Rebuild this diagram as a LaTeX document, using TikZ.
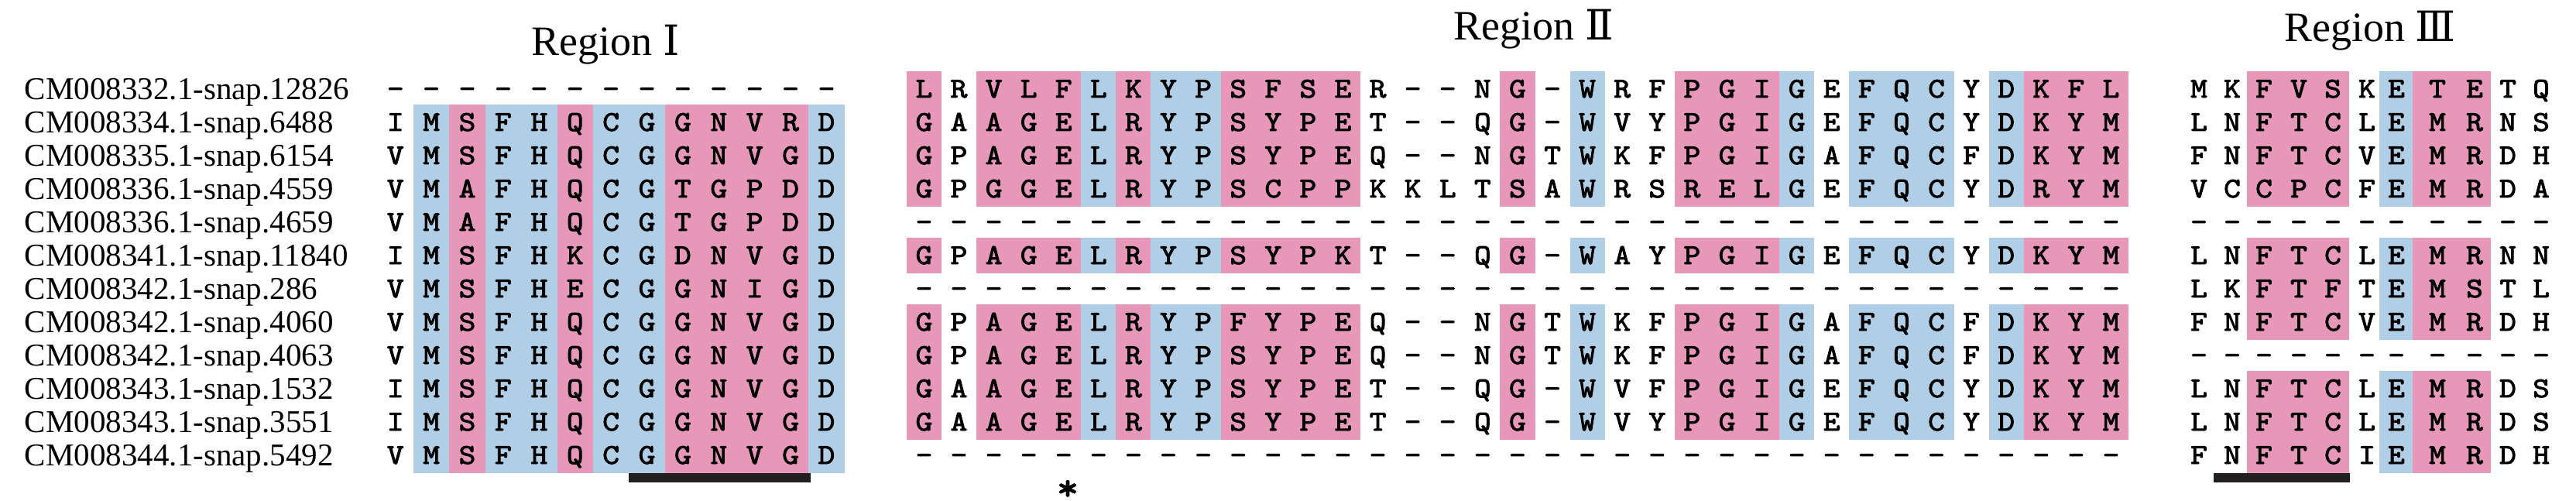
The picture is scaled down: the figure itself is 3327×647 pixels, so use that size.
\documentclass[tikz,border=0pt]{standalone}
\usepackage{fontspec}
\setmainfont{Liberation Serif}
\newfontfamily\resfont{lmmono10-regular.otf}[FakeBold=2.6,FakeStretch=1.12]
\newfontfamily\numfont{DejaVu Serif}
\usepackage{xcolor}
\usepackage{tikz}

\definecolor{shpink}{RGB}{231,151,184}
\definecolor{shblue}{RGB}{176,207,230}
\definecolor{barink}{RGB}{35,31,32}

\tikzset{
  res/.style={anchor=base, inner sep=0pt, font=\resfont\fontsize{18.5}{18.5}\selectfont},
  seqname/.style={anchor=base west, inner sep=0pt, font=\fontsize{20.5}{20.5}\selectfont},
  regtitle/.style={anchor=base, inner sep=0pt, font=\fontsize{27}{27}\selectfont},
}

\begin{document}
\begin{tikzpicture}[x=0.5pt,y=-0.5pt]
  \useasboundingbox (0,0) rectangle (3327,647);

  % sequence names
  \foreach \nm [count=\r] in {CM008332.1-snap.12826, CM008334.1-snap.6488,
      CM008335.1-snap.6154, CM008336.1-snap.4559, CM008336.1-snap.4659,
      CM008341.1-snap.11840, CM008342.1-snap.286, CM008342.1-snap.4060,
      CM008342.1-snap.4063, CM008343.1-snap.1532, CM008343.1-snap.3551,
      CM008344.1-snap.5492}
    \node[seqname] (name\r) at (31.6,{128.3+43*(\r-1)}) {\nm};

  % region I
  \begin{scope}
  \node[regtitle] (titleI) at (782,71.7) {Region {\numfont Ⅰ}};
  \foreach \ca/\cb/\clr in {2/2/shblue,3/3/shpink,4/5/shblue,6/6/shpink,
      7/8/shblue,9/12/shpink,13/13/shblue}
    \fill[\clr] ({510.7+46.4*(\ca-1)-23.2},135) rectangle ({510.7+46.4*(\cb-1)+23.2},611);
  \foreach \r/\seq in {
      1/{-,-,-,-,-,-,-,-,-,-,-,-,-},
      2/{I,M,S,F,H,Q,C,G,G,N,V,R,D},
      3/{V,M,S,F,H,Q,C,G,G,N,V,G,D},
      4/{V,M,A,F,H,Q,C,G,T,G,P,D,D},
      5/{V,M,A,F,H,Q,C,G,T,G,P,D,D},
      6/{I,M,S,F,H,K,C,G,D,N,V,G,D},
      7/{V,M,S,F,H,E,C,G,G,N,I,G,D},
      8/{V,M,S,F,H,Q,C,G,G,N,V,G,D},
      9/{V,M,S,F,H,Q,C,G,G,N,V,G,D},
      10/{I,M,S,F,H,Q,C,G,G,N,V,G,D},
      11/{I,M,S,F,H,Q,C,G,G,N,V,G,D},
      12/{V,M,S,F,H,Q,C,G,G,N,V,G,D}}
    \foreach \aa [count=\ci] in \seq
      \node[res] (a\r-\ci) at ({510.7+46.4*(\ci-1)},{126+43*(\r-1)}) {\aa};
  \fill[barink] (812.4,610.7) rectangle (1046.6,622.7);
  \end{scope}

  % region II
  \begin{scope}
  \node[regtitle] (titleII) at (1981,51.7) {Region {\numfont Ⅱ}};
  \foreach \ra/\rb in {1/4,6/6,8/11}
    \foreach \ca/\cb/\clr in {1/1/shpink,3/5/shpink,6/6/shblue,7/7/shpink,
        8/9/shblue,10/13/shpink,18/18/shpink,20/20/shblue,23/25/shpink,
        26/26/shblue,28/30/shblue,32/32/shblue,33/35/shpink}
      \fill[\clr] ({1193.4+45.09*(\ca-1)-22.6},{115+43*(\ra-1)-23})
        rectangle ({1193.4+45.09*(\cb-1)+22.6},{115+43*(\rb-1)+23});
  \foreach \r/\seq in {
      1/{L,R,V,L,F,L,K,Y,P,S,F,S,E,R,-,-,N,G,-,W,R,F,P,G,I,G,E,F,Q,C,Y,D,K,F,L},
      2/{G,A,A,G,E,L,R,Y,P,S,Y,P,E,T,-,-,Q,G,-,W,V,Y,P,G,I,G,E,F,Q,C,Y,D,K,Y,M},
      3/{G,P,A,G,E,L,R,Y,P,S,Y,P,E,Q,-,-,N,G,T,W,K,F,P,G,I,G,A,F,Q,C,F,D,K,Y,M},
      4/{G,P,G,G,E,L,R,Y,P,S,C,P,P,K,K,L,T,S,A,W,R,S,R,E,L,G,E,F,Q,C,Y,D,R,Y,M},
      5/{-,-,-,-,-,-,-,-,-,-,-,-,-,-,-,-,-,-,-,-,-,-,-,-,-,-,-,-,-,-,-,-,-,-,-},
      6/{G,P,A,G,E,L,R,Y,P,S,Y,P,K,T,-,-,Q,G,-,W,A,Y,P,G,I,G,E,F,Q,C,Y,D,K,Y,M},
      7/{-,-,-,-,-,-,-,-,-,-,-,-,-,-,-,-,-,-,-,-,-,-,-,-,-,-,-,-,-,-,-,-,-,-,-},
      8/{G,P,A,G,E,L,R,Y,P,F,Y,P,E,Q,-,-,N,G,T,W,K,F,P,G,I,G,A,F,Q,C,F,D,K,Y,M},
      9/{G,P,A,G,E,L,R,Y,P,S,Y,P,E,Q,-,-,N,G,T,W,K,F,P,G,I,G,A,F,Q,C,F,D,K,Y,M},
      10/{G,A,A,G,E,L,R,Y,P,S,Y,P,E,T,-,-,Q,G,-,W,V,F,P,G,I,G,E,F,Q,C,Y,D,K,Y,M},
      11/{G,A,A,G,E,L,R,Y,P,S,Y,P,E,T,-,-,Q,G,-,W,V,Y,P,G,I,G,E,F,Q,C,Y,D,K,Y,M},
      12/{-,-,-,-,-,-,-,-,-,-,-,-,-,-,-,-,-,-,-,-,-,-,-,-,-,-,-,-,-,-,-,-,-,-,-}}
    \foreach \aa [count=\ci] in \seq
      \node[res] (b\r-\ci) at ({1193.4+45.09*(\ci-1)},{126+43*(\r-1)}) {\aa};
  \node[res, font=\resfont\fontsize{24}{24}\selectfont] (star) at (1379,645.5) {*};
  \end{scope}

  % region III
  \begin{scope}
  \node[regtitle] (titleIII) at (3061,53.3) {Region {\numfont Ⅲ}};
  \foreach \ra/\rb in {1/4,6/8,10/12} {
    \fill[shpink] (2902,{115+43*(\ra-1)-23}) rectangle (3034,{115+43*(\rb-1)+23});
    \fill[shblue] (3073,{115+43*(\ra-1)-23}) rectangle (3116,{115+43*(\rb-1)+23});
    \fill[shpink] (3116,{115+43*(\ra-1)-23}) rectangle (3217,{115+43*(\rb-1)+23});
  }
  \foreach \r/\seq in {
      1/{M,K,F,V,S,K,E,T,E,T,Q},
      2/{L,N,F,T,C,L,E,M,R,N,S},
      3/{F,N,F,T,C,V,E,M,R,D,H},
      4/{V,C,C,P,C,F,E,M,R,D,A},
      5/{-,-,-,-,-,-,-,-,-,-,-},
      6/{L,N,F,T,C,L,E,M,R,N,N},
      7/{L,K,F,T,F,T,E,M,S,T,L},
      8/{F,N,F,T,C,V,E,M,R,D,H},
      9/{-,-,-,-,-,-,-,-,-,-,-},
      10/{L,N,F,T,C,L,E,M,R,D,S},
      11/{L,N,F,T,C,L,E,M,R,D,S},
      12/{F,N,F,T,C,I,E,M,R,D,H}}
    \foreach \aa [count=\ci] in \seq {
      \pgfmathsetmacro{\xc}{{2840,2883,2924,2969,3013,3057,3095,3148,3196,3239,3282}[\ci-1]}
      \node[res] (c\r-\ci) at (\xc,{126+43*(\r-1)}) {\aa};
    }
  \fill[barink] (2859,610.7) rectangle (3035,622.7);
  \end{scope}
\end{tikzpicture}
\end{document}
